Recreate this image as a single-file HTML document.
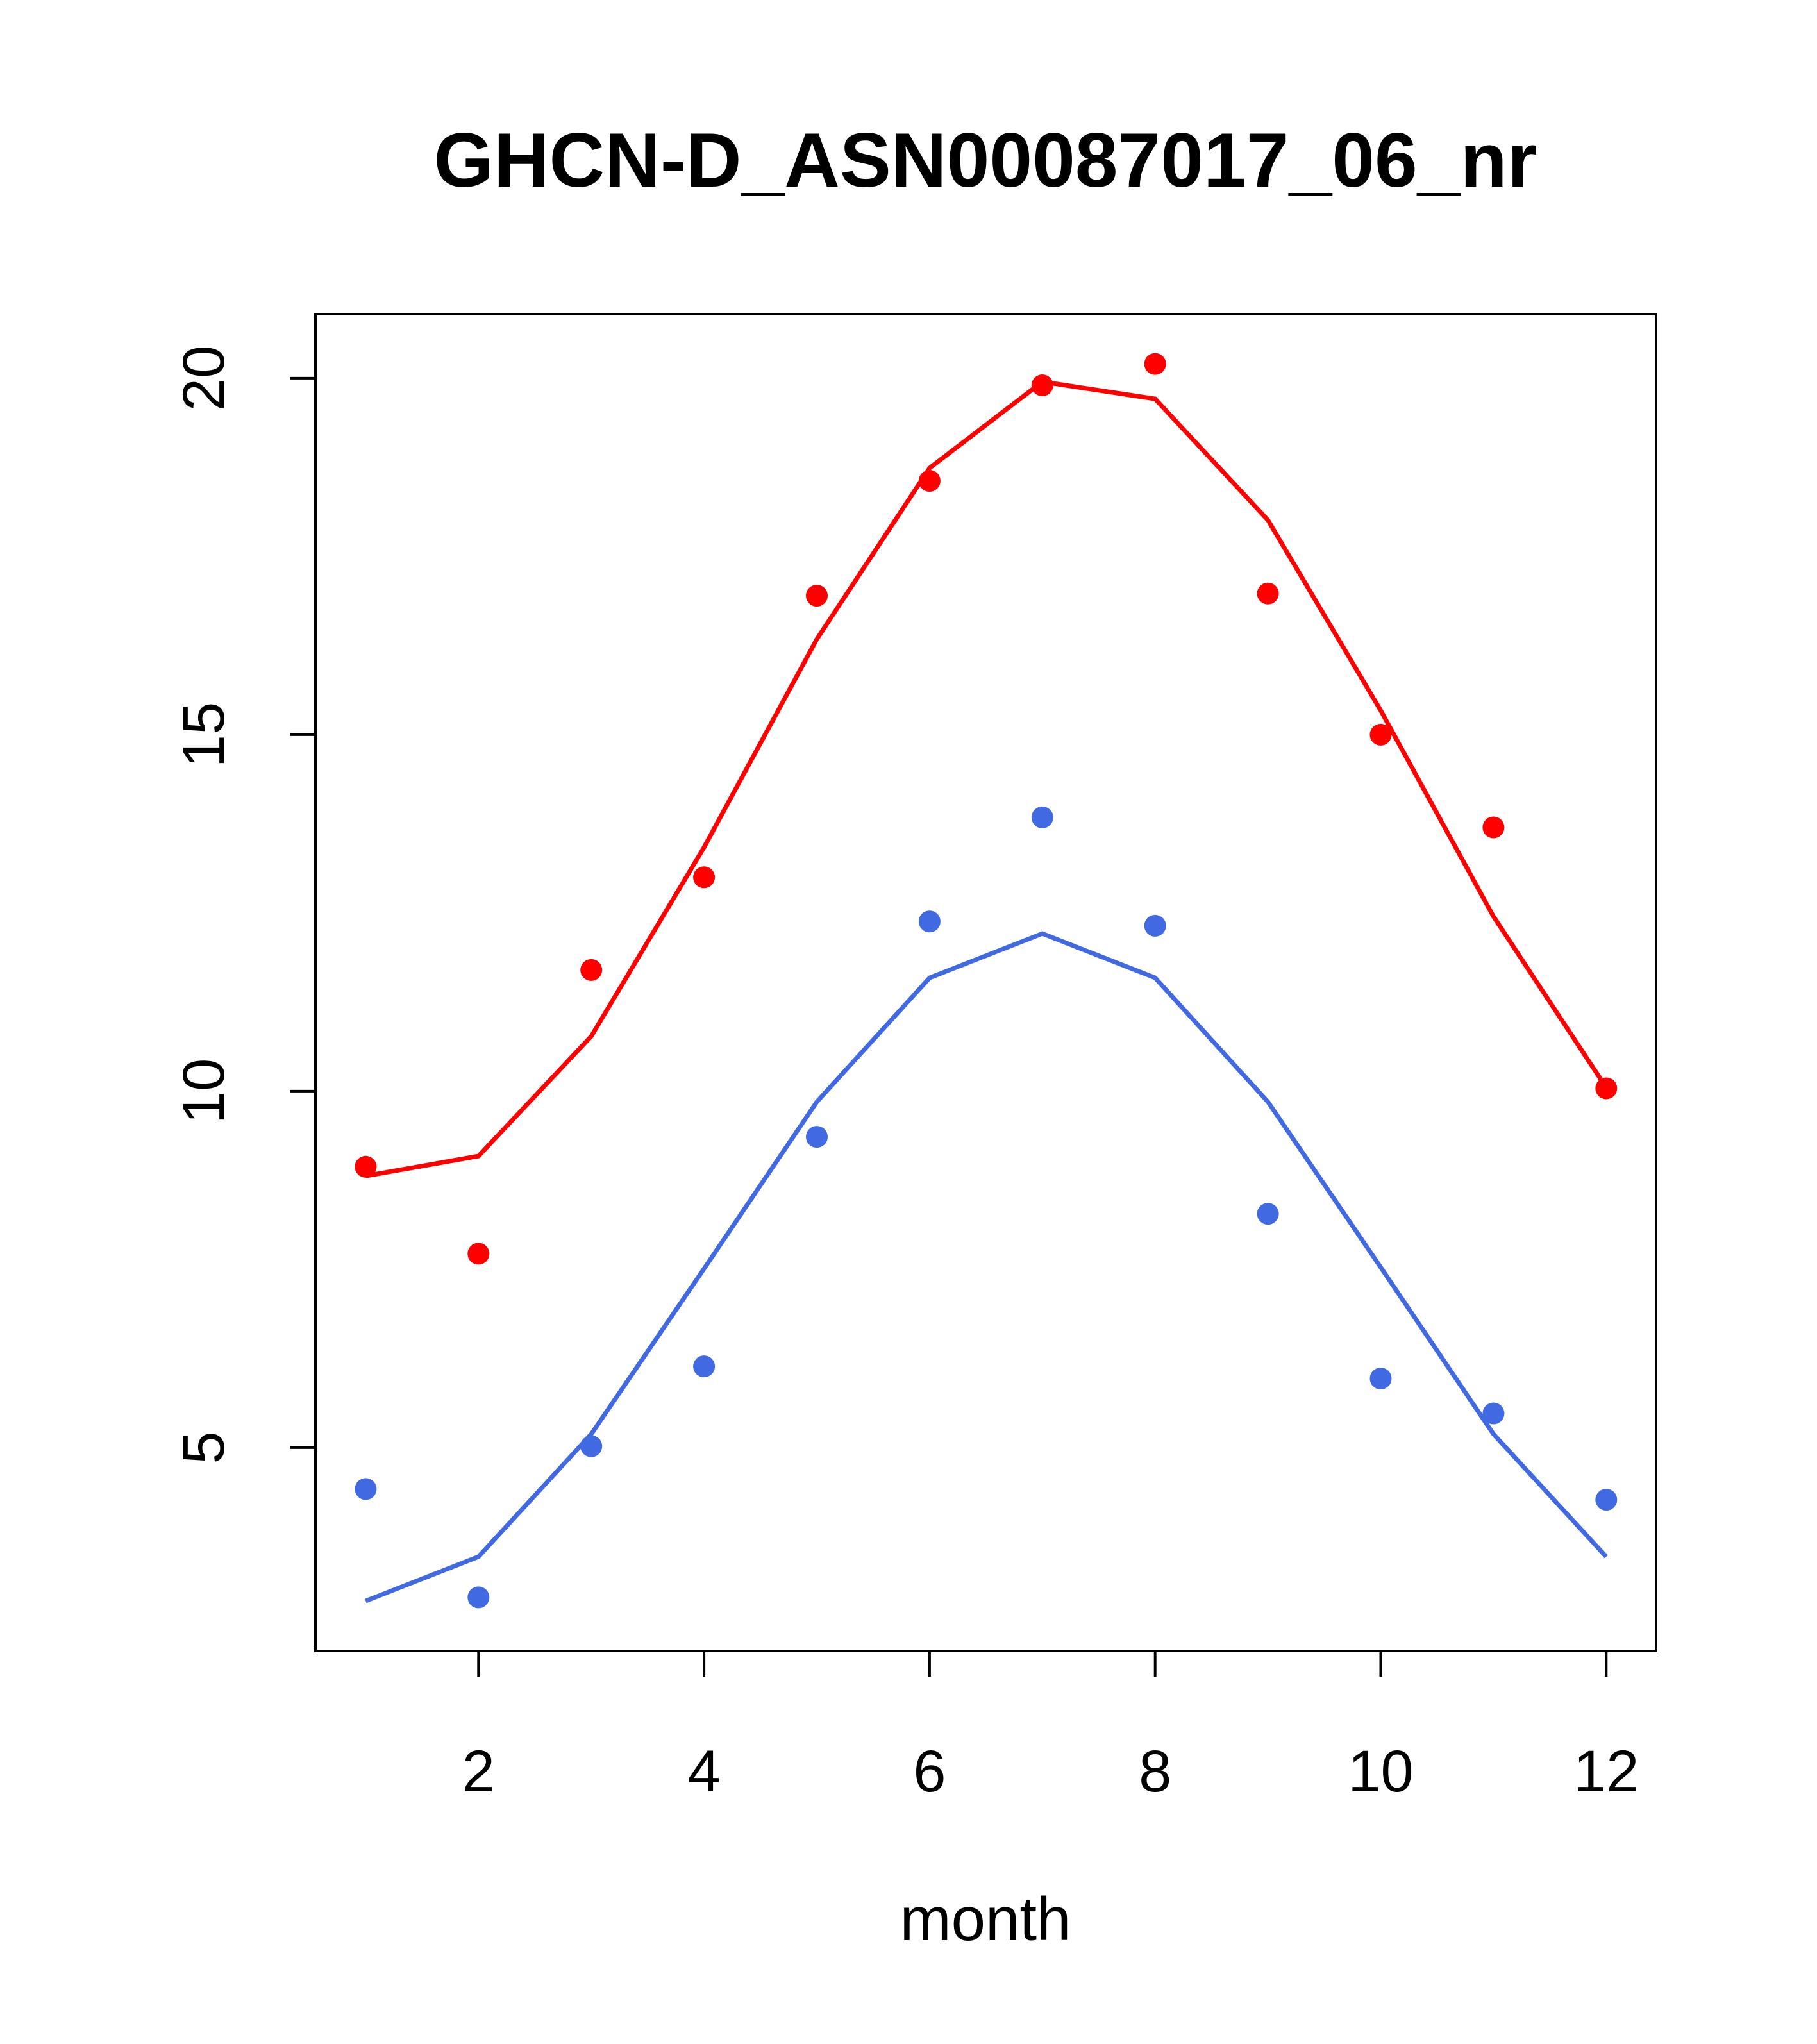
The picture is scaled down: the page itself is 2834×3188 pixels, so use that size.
<!DOCTYPE html>
<html><head><meta charset="utf-8"><style>
html,body{margin:0;padding:0;background:#fff;}
svg{display:block;font-family:"Liberation Sans",Arial,sans-serif;}
</style></head><body>
<svg id="chart" width="2834" height="3188" viewBox="0 0 2834 3188" xmlns="http://www.w3.org/2000/svg">
<rect width="2834" height="3188" fill="#fff"/>
<text x="1537" y="291" text-anchor="middle" font-size="120" font-weight="bold">GHCN-D_ASN00087017_06_nr</text>
<rect x="492" y="490" width="2091" height="2085" fill="none" stroke="#000" stroke-width="4"/>
<g id="xaxis"></g>
<g id="yaxis"></g>
<text x="1537" y="3026" text-anchor="middle" font-size="96">month</text>
<g id="series"></g>
</svg>
<script>
const months=[1,2,3,4,5,6,7,8,9,10,11,12];
const redPoints=[8.94,7.72,11.7,13.0,16.95,18.56,19.9,20.2,16.98,15.0,13.7,10.04];
const redLine=[8.81,9.09,10.77,13.42,16.34,18.74,19.95,19.71,18.01,15.34,12.45,10.05];
const bluePoints=[4.42,2.9,5.02,6.14,9.36,12.38,13.84,12.32,8.28,5.97,5.48,4.27];
const blueLine=[2.85,3.47,5.19,7.51,9.85,11.59,12.21,11.59,9.85,7.53,5.19,3.47];
const xTicks=[2,4,6,8,10,12];
const yTicks=[5,10,15,20];
const NS="http://www.w3.org/2000/svg";
function xs(m){return 570.4+(m-1)*175.9;}
function ys(v){return 1701.9-(v-10)*111.2;}
function mk(t,a,p){const e=document.createElementNS(NS,t);for(const k in a)e.setAttribute(k,a[k]);p.appendChild(e);return e;}
const xa=document.getElementById('xaxis'),ya=document.getElementById('yaxis'),sr=document.getElementById('series');
mk('line',{x1:xs(2),x2:xs(12),y1:2575,y2:2575,stroke:'#000','stroke-width':4},xa);
xTicks.forEach(t=>{
 const l=mk('line',{x1:xs(t),x2:xs(t),y1:2575,y2:2615,stroke:'#000','stroke-width':4},xa);
 
 
 const tx=mk('text',{x:xs(t),y:2794,'text-anchor':'middle','font-size':92},xa);tx.textContent=t;
 
 
});
yTicks.forEach(t=>{
 const l=mk('line',{x1:452,x2:492,y1:ys(t),y2:ys(t),stroke:'#000','stroke-width':4},ya);
 
 
 const tx=mk('text',{x:0,y:0,'text-anchor':'middle','font-size':92,transform:`translate(349,${ys(t)}) rotate(-90)`},ya);tx.textContent=t;
 
 
});
mk('line',{x1:492,x2:492,y1:ys(5),y2:ys(20),stroke:'#000','stroke-width':4},ya);
function series(pts,line,col,name){
 const p=mk('polyline',{points:months.map((m,i)=>xs(m)+','+ys(line[i])).join(' '),fill:'none',stroke:col,'stroke-width':7},sr);
 
 
 months.forEach((m,i)=>{
  const c=mk('circle',{cx:xs(m),cy:ys(pts[i]),r:17,fill:col},sr);
  
  
 });
}
series(redPoints,redLine,'#ff0000','max-temp');
series(bluePoints,blueLine,'#4169e1','min-temp');
</script>
</body></html>
